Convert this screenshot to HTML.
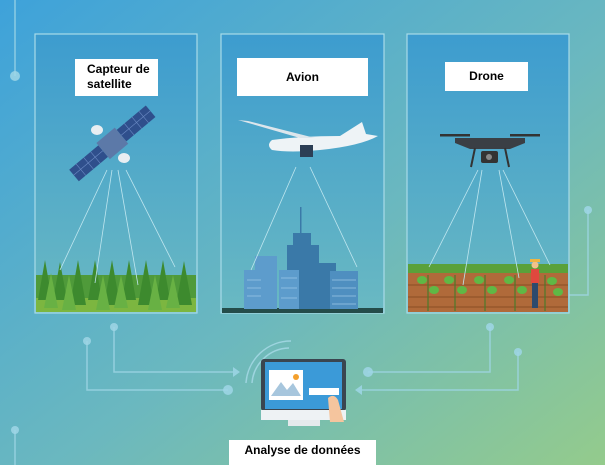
<!DOCTYPE html>
<html><head><meta charset="utf-8"><style>
html,body{margin:0;padding:0;width:605px;height:465px;overflow:hidden}
.l{position:absolute;background:#fff;font-family:"Liberation Sans",sans-serif;font-weight:bold;font-size:12px;color:#000}
</style></head><body>
<div style="position:relative;width:605px;height:465px">
<svg width="605" height="465" style="position:absolute;left:0;top:0">
<defs>
<linearGradient id="bg" x1="0" y1="0" x2="1" y2="1">
<stop offset="0" stop-color="#3ea2da"/><stop offset="0.55" stop-color="#6bb8bf"/><stop offset="1" stop-color="#94cb8c"/>
</linearGradient>
<linearGradient id="pn" x1="0" y1="0" x2="0" y2="1">
<stop offset="0" stop-color="#3d9ccf"/><stop offset="1" stop-color="#6ab9c2"/>
</linearGradient>
</defs>
<rect width="605" height="465" fill="url(#bg)"/>
<g stroke="#9fd6e6" stroke-width="1.5" fill="none" opacity="0.8">
<path d="M15 0V76"/><path d="M588 210V295H569"/>
<path d="M114 327V372H233"/><path d="M87 341V390H228"/>
<path d="M490 327V372H368"/><path d="M518 352V390H362"/>
<path d="M15 430V465"/>
</g>
<g fill="#9fd6e6" opacity="0.85">
<circle cx="15" cy="76" r="5"/><circle cx="588" cy="210" r="4"/>
<circle cx="114" cy="327" r="4"/><circle cx="87" cy="341" r="4"/>
<circle cx="490" cy="327" r="4"/><circle cx="518" cy="352" r="4"/>
<circle cx="228" cy="390" r="5"/><circle cx="368" cy="372" r="5"/>
<path d="M233 367l7 5-7 5z"/><path d="M362 385l-7 5 7 5z"/>
<circle cx="15" cy="430" r="4"/>
</g>
<g stroke="#a8dbe8" stroke-width="1.2" fill="url(#pn)">
<rect x="35" y="34" width="162" height="279"/>
<rect x="221" y="34" width="163" height="279"/>
<rect x="407" y="34" width="162" height="279"/>
</g>
<!-- forest -->
<rect x="36" y="275" width="160" height="37" fill="#4f9a3a"/>
<rect x="36" y="298" width="160" height="14" fill="#7cb640"/>
<g fill="#3d8a2e">
<path d="M38 300l7-40 7 40z"/><path d="M53 300l7-38 7 38z"/><path d="M70 305l8-45 8 45z"/><path d="M88 300l7-40 7 40z"/><path d="M104 305l8-45 8 45z"/><path d="M122 300l7-40 7 40z"/><path d="M138 305l8-45 8 45z"/><path d="M156 300l7-40 7 40z"/><path d="M176 305l8-44 8 44z"/>
</g>
<g fill="#68b144">
<path d="M44 308l7-35 7 35z"/><path d="M62 310l7-35 7 35z"/><path d="M96 310l7-35 7 35z"/><path d="M114 308l7-33 7 33z"/><path d="M148 310l7-35 7 35z"/><path d="M166 308l7-33 7 33z"/>
</g>
<!-- city -->
<rect x="222" y="308" width="161" height="5" fill="#244c4a"/>
<g fill="#3a79a8">
<rect x="287" y="245" width="32" height="64"/><rect x="293" y="233" width="18" height="14"/><rect x="300" y="207" width="1.5" height="28"/>
<rect x="314" y="263" width="22" height="46"/>
</g>
<g fill="#5d9ccc">
<rect x="255" y="256" width="22" height="53"/><rect x="244" y="270" width="20" height="39"/><rect x="279" y="270" width="20" height="39"/><rect x="330" y="271" width="28" height="38" fill="#4f8fc0"/>
</g>
<g stroke="#9cc8e6" stroke-width="0.8">
<path d="M247 280h14M247 288h14M247 296h14M281 278h16M281 288h16M281 298h16M332 280h24M332 288h24M332 296h24M332 304h24"/>
</g>
<!-- farm -->
<rect x="408" y="270" width="160" height="42" fill="#b06a3a"/>
<rect x="408" y="264" width="160" height="9" fill="#5aa13a"/>
<g stroke="#8a4d24" stroke-width="1"><path d="M408 285h160M408 297h160M408 307h160"/></g>
<g stroke="#4d7a2a" stroke-width="1.2"><path d="M428 275v36M455 275v36M485 275v36M515 275v36M545 275v36"/></g>
<g fill="#5fb845">
<ellipse cx="422" cy="280" rx="5" ry="4"/><ellipse cx="434" cy="290" rx="5" ry="4"/><ellipse cx="449" cy="280" rx="5" ry="4"/><ellipse cx="462" cy="290" rx="5" ry="4"/><ellipse cx="479" cy="280" rx="5" ry="4"/><ellipse cx="492" cy="290" rx="5" ry="4"/><ellipse cx="509" cy="280" rx="5" ry="4"/><ellipse cx="522" cy="290" rx="5" ry="4"/><ellipse cx="552" cy="281" rx="5" ry="4"/><ellipse cx="558" cy="292" rx="5" ry="4"/>
</g>
<rect x="531" y="269" width="8" height="14" fill="#e0483e"/><circle cx="535" cy="265" r="3.5" fill="#f2c18c"/><rect x="530" y="259" width="10" height="3" fill="#f0b642"/><rect x="532" y="283" width="6" height="25" fill="#2d4a6d"/>
<!-- beams -->
<g stroke="#bfe6ef" stroke-width="0.8" fill="none">
<path d="M107 170L60 270M112 170L95 283M118 170L138 285M126 170L175 267"/>
<path d="M296 167L251 270M310 167L357 267"/>
<path d="M478 170L429 267M482 170L463 285M499 170L519 278M503 170L550 265"/>
</g>
<!-- satellite -->
<g transform="rotate(-40 112 143)">
<rect x="62" y="136" width="38" height="15" fill="#2f4f8c"/><rect x="124" y="136" width="38" height="15" fill="#2f4f8c"/>
<g stroke="#6b8ac4" stroke-width="0.6"><path d="M71 136v15M81 136v15M90 136v15M134 136v15M144 136v15M153 136v15M62 143h38M124 143h38"/></g>
<rect x="100" y="133" width="24" height="21" fill="#5c79a8"/>
</g>
<ellipse cx="97" cy="130" rx="6" ry="5" fill="#e8eef2"/><ellipse cx="124" cy="158" rx="6" ry="5" fill="#e8eef2"/>
<!-- plane -->
<path d="M272 140Q300 136 340 136L362 122L366 134L378 136Q360 146 320 150Q290 153 272 150Q266 145 272 140Z" fill="#eef3f6"/>
<path d="M238 120L300 138L315 138L248 121Z" fill="#dde6ec"/>
<rect x="300" y="145" width="13" height="12" fill="#2c3e55"/>
<!-- drone -->
<rect x="440" y="134" width="30" height="2.5" fill="#333"/><rect x="510" y="134" width="30" height="2.5" fill="#333"/>
<path d="M455 138h70v5l-15 6h-40l-15-6z" fill="#3a3f45"/>
<rect x="481" y="151" width="17" height="12" rx="2" fill="#333"/><circle cx="489" cy="157" r="3" fill="#888"/>
<path d="M475 148L471 167M505 148L509 167" stroke="#333" stroke-width="2"/>
<!-- monitor -->
<g fill="none" stroke="#a9dbe8" stroke-width="1.5" opacity="0.8"><path d="M246 383A45 45 0 0 1 291 341M252 383A38 38 0 0 1 289 348"/></g>
<rect x="261" y="359" width="85" height="52" rx="3" fill="#3a4550"/>
<rect x="265" y="362" width="77" height="47" fill="#3b9ad8"/>
<rect x="261" y="410" width="85" height="10" fill="#eef2f4"/>
<rect x="288" y="420" width="32" height="6" fill="#e5e9ec"/>
<rect x="269" y="370" width="34" height="30" fill="#fff"/><path d="M271 396l10-14 6 8 6-7 8 13z" fill="#a7c6dd"/><circle cx="296" cy="377" r="3" fill="#f4a02c"/>
<rect x="309" y="388" width="30" height="7" fill="#fff"/>
<path d="M328 398q6-5 10 2l6 22h-14z" fill="#f5c59e"/>
</svg>
<div class="l" style="left:75px;top:59px;width:83px;height:37px;line-height:15px;box-sizing:border-box;padding-left:12px;padding-top:3px">Capteur de<br>satellite</div>
<div class="l" style="left:237px;top:58px;width:131px;height:38px;line-height:38px;text-align:center">Avion</div>
<div class="l" style="left:445px;top:62px;width:83px;height:29px;line-height:29px;text-align:center">Drone</div>
<div class="l" style="left:229px;top:440px;width:147px;height:25px;line-height:14px;text-align:center;padding-top:3px;box-sizing:border-box">Analyse de données</div>
</div>
</body></html>
